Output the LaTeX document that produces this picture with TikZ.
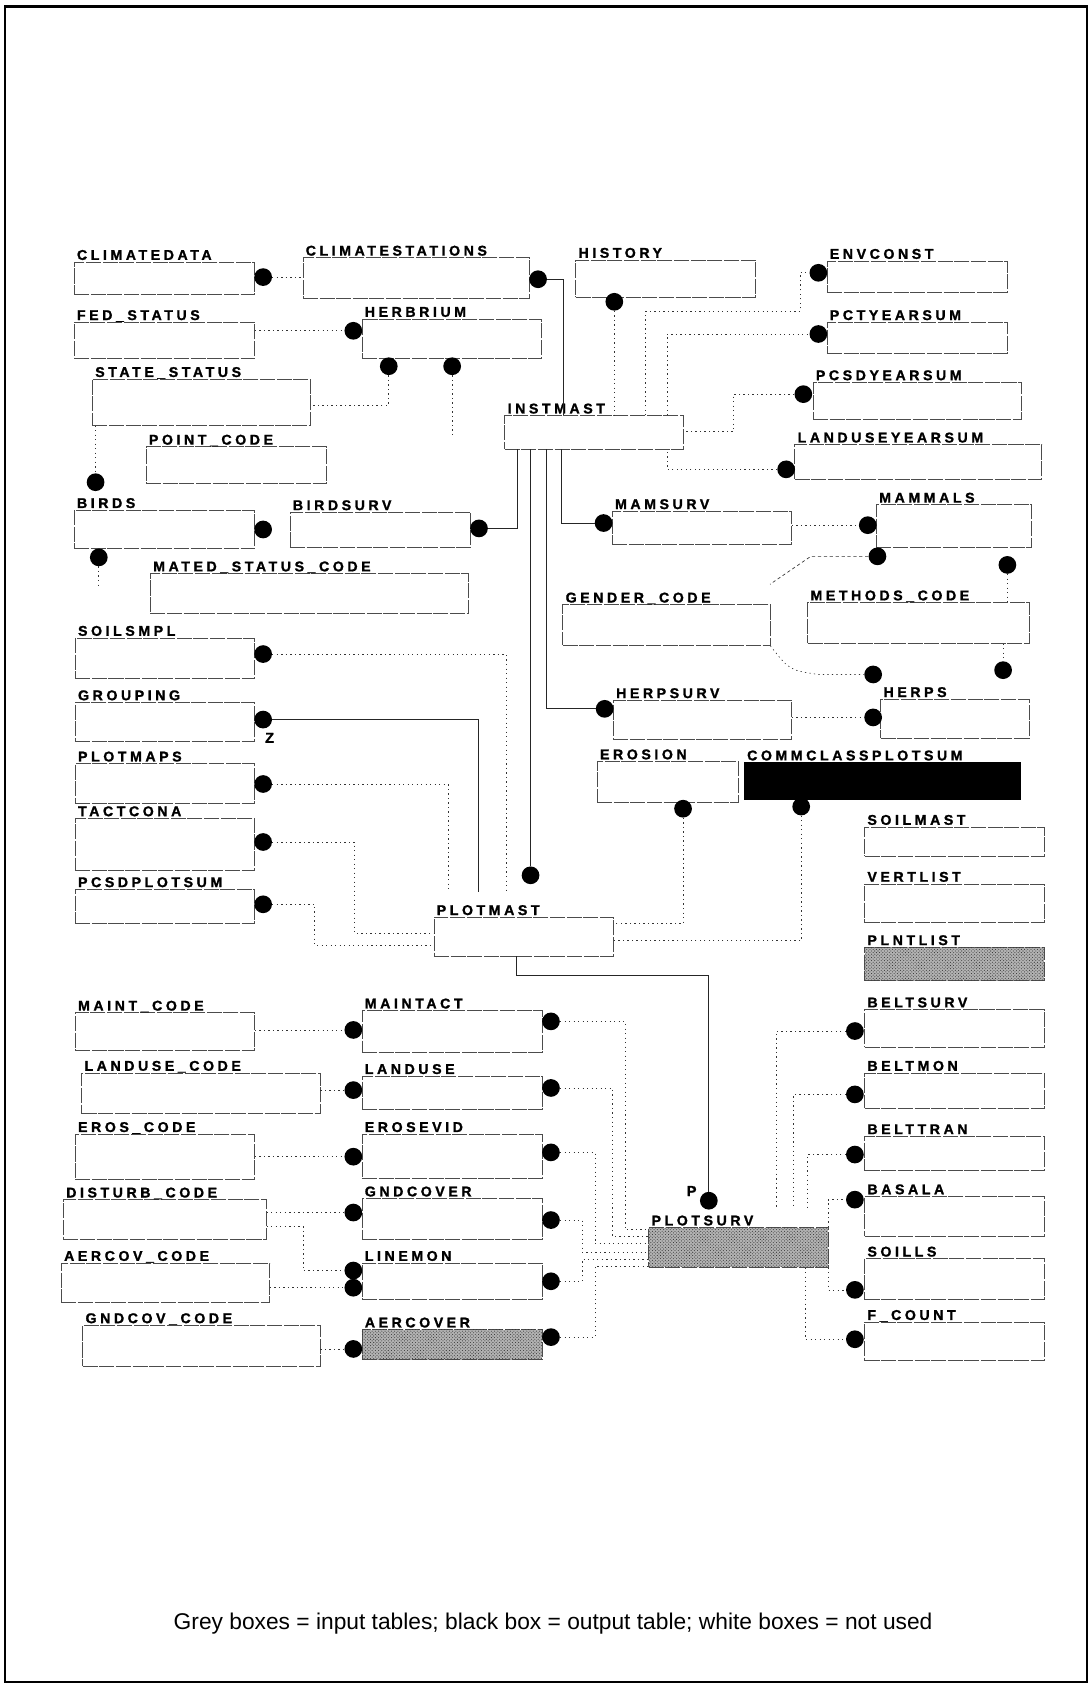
\documentclass[tikz,border=0pt]{standalone}
\usepackage{fontspec}
\setmainfont{Liberation Sans}
\newfontfamily\lblfont[LetterSpace=25,FakeBold=1.3]{Liberation Sans Bold}
\usetikzlibrary{patterns}
\tikzset{
  tbl/.style={rectangle,draw=black!70,line width=0.6pt,dash pattern=on 14pt off 1.5pt,inner sep=0pt},
  greyfill/.style={fill=black!30,postaction={pattern=crosshatch dots,pattern color=black!80}},
  blackfill/.style={fill=black,draw=black,solid},
  plain/.style={},
  lbl/.style={anchor=base west,inner sep=0pt,font=\lblfont\fontsize{13.2}{13}\selectfont},
  blob/.style={circle,fill=black,inner sep=0pt,minimum size=16.5pt},
  dl/.style={draw=black!80,line width=0.6pt,dash pattern=on 1.2pt off 3pt},
  dsh/.style={draw=black!80,line width=0.6pt,dash pattern=on 3pt off 2.5pt},
  sl/.style={draw=black!85,line width=0.7pt},
}
\newcommand{\tb}[7]{%
  \node[tbl,#7,minimum width={(#4-#2)*1pt},minimum height={(#5-#3)*1pt}] (#1) at ({(#2+#4)/2},{(#3+#5)/2}) {};
  \node[lbl] (#1-l) at ({#2+2.5},{#3-2}) {#6};
}
\begin{document}
\begin{tikzpicture}[x=1pt,y=-1pt]
\useasboundingbox (0,0) rectangle (1014,1568);
\draw[line width=2pt] (5,6) rectangle (1012,1566);

% ---- boxes ----
\tb{climatedata}{69}{244}{237}{274}{CLIMATEDATA}{plain}
\tb{climatestations}{282}{240}{493}{278}{CLIMATESTATIONS}{plain}
\tb{history}{536}{242}{703}{277}{HISTORY}{plain}
\tb{envconst}{770}{243}{938}{272}{ENVCONST}{plain}
\tb{fedstatus}{69}{300}{237}{334}{FED\_STATUS}{plain}
\tb{herbrium}{337}{297}{504}{334}{HERBRIUM}{plain}
\tb{pctyearsum}{770}{300}{938}{329}{PCTYEARSUM}{plain}
\tb{statestatus}{86}{353}{289}{396}{STATE\_STATUS}{plain}
\tb{pcsdyearsum}{757}{356}{951}{390}{PCSDYEARSUM}{plain}
\tb{instmast}{470}{387}{636}{418}{INSTMAST}{plain}
\tb{pointcode}{136}{416}{304}{450}{POINT\_CODE}{plain}
\tb{landuseyearsum}{740}{414}{970}{446}{LANDUSEYEARSUM}{plain}
\tb{birds}{69}{475}{237}{511}{BIRDS}{plain}
\tb{birdsurv}{270}{477}{438}{510}{BIRDSURV}{plain}
\tb{mamsurv}{570}{476}{737}{507}{MAMSURV}{plain}
\tb{mammals}{816}{470}{960}{510}{MAMMALS}{plain}
\tb{mated}{140}{534}{436}{571}{MATED\_STATUS\_CODE}{plain}
\tb{gender}{524}{563}{717}{601}{GENDER\_CODE}{plain}
\tb{methods}{752}{561}{958}{599}{METHODS\_CODE}{plain}
\tb{soilsmpl}{70}{594}{237}{632}{SOILSMPL}{plain}
\tb{grouping}{70}{654}{237}{690}{GROUPING}{plain}
\tb{herpsurv}{571}{652}{737}{688}{HERPSURV}{plain}
\tb{herps}{820}{651}{958}{687}{HERPS}{plain}
\tb{plotmaps}{70}{711}{237}{748}{PLOTMAPS}{plain}
\tb{erosion}{556}{709}{687}{747}{EROSION}{plain}
\tb{commclass}{693}{710}{950}{744}{COMMCLASSPLOTSUM}{blackfill}
\tb{tactcona}{70}{762}{237}{810}{TACTCONA}{plain}
\tb{soilmast}{805}{770}{972}{797}{SOILMAST}{plain}
\tb{pcsdplotsum}{70}{828}{237}{860}{PCSDPLOTSUM}{plain}
\tb{vertlist}{805}{823}{972}{859}{VERTLIST}{plain}
\tb{plotmast}{404}{854}{571}{890}{PLOTMAST}{plain}
\tb{plntlist}{805}{882}{972}{913}{PLNTLIST}{greyfill}
\tb{maintcode}{70}{943}{237}{978}{MAINT\_CODE}{plain}
\tb{maintact}{337}{941}{505}{980}{MAINTACT}{plain}
\tb{beltsurv}{805}{940}{972}{975}{BELTSURV}{plain}
\tb{landusecode}{76}{999}{298}{1037}{LANDUSE\_CODE}{plain}
\tb{landuse}{337}{1002}{505}{1033}{LANDUSE}{plain}
\tb{beltmon}{805}{999}{972}{1032}{BELTMON}{plain}
\tb{eroscode}{70}{1056}{237}{1098}{EROS\_CODE}{plain}
\tb{erosevid}{337}{1056}{505}{1097}{EROSEVID}{plain}
\tb{belttran}{805}{1058}{972}{1090}{BELTTRAN}{plain}
\tb{disturb}{59}{1117}{248}{1154}{DISTURB\_CODE}{plain}
\tb{gndcover}{337}{1116}{505}{1154}{GNDCOVER}{plain}
\tb{basala}{805}{1114}{972}{1151}{BASALA}{plain}
\tb{plotsurv}{604}{1143}{771}{1180}{PLOTSURV}{greyfill}
\tb{aercovcode}{57}{1176}{251}{1213}{AERCOV\_CODE}{plain}
\tb{linemon}{337}{1176}{505}{1210}{LINEMON}{plain}
\tb{soills}{805}{1172}{972}{1210}{SOILLS}{plain}
\tb{gndcovcode}{77}{1234}{298}{1272}{GNDCOV\_CODE}{plain}
\tb{aercover}{337}{1238}{505}{1266}{AERCOVER}{greyfill}
\tb{fcount}{805}{1231}{972}{1267}{F\_COUNT}{plain}

% ---- dots ----
\node[blob] (d1) at (245,258) {};
\node[blob] (d2) at (501,260) {};
\node[blob] (d3) at (572,281) {};
\node[blob] (d4) at (762,254) {};
\node[blob] (d5) at (329,308) {};
\node[blob] (d6) at (762,311) {};
\node[blob] (d7) at (362,341) {};
\node[blob] (d8) at (421,341) {};
\node[blob] (d9) at (748,367) {};
\node[blob] (d10) at (732,437) {};
\node[blob] (d11) at (89,449) {};
\node[blob] (d12) at (245,493) {};
\node[blob] (d13) at (446,492) {};
\node[blob] (d14) at (562,487) {};
\node[blob] (d15) at (808,489) {};
\node[blob] (d16) at (92,519) {};
\node[blob] (d17) at (817,518) {};
\node[blob] (d18) at (938,526) {};
\node[blob] (d19) at (245,609) {};
\node[blob] (d20) at (813,628) {};
\node[blob] (d21) at (934,624) {};
\node[blob] (d22) at (563,660) {};
\node[blob] (d23) at (813,668) {};
\node[blob] (d24) at (245,670) {};
\node[blob] (d25) at (245,730) {};
\node[blob] (d26) at (636,753) {};
\node[blob] (d27) at (746,751) {};
\node[blob] (d28) at (245,784) {};
\node[blob] (d29) at (494,815) {};
\node[blob] (d30) at (245,842) {};
\node[blob] (d31) at (329,959) {};
\node[blob] (d32) at (513,951) {};
\node[blob] (d33) at (796,960) {};
\node[blob] (d34) at (329,1015) {};
\node[blob] (d35) at (513,1013) {};
\node[blob] (d36) at (796,1019) {};
\node[blob] (d37) at (329,1077) {};
\node[blob] (d38) at (513,1073) {};
\node[blob] (d39) at (796,1075) {};
\node[blob] (d40) at (660,1118) {};
\node[blob] (d41) at (796,1117) {};
\node[blob] (d42) at (329,1129) {};
\node[blob] (d43) at (513,1136) {};
\node[blob] (d44) at (329,1183) {};
\node[blob] (d45) at (329,1199) {};
\node[blob] (d46) at (513,1193) {};
\node[blob] (d47) at (796,1201) {};
\node[blob] (d48) at (329,1256) {};
\node[blob] (d49) at (513,1245) {};
\node[blob] (d50) at (796,1247) {};

\node[font=\lblfont\fontsize{13.5}{14}\selectfont,inner sep=0pt] (zlab) at (251,687) {Z};
\node[font=\lblfont\fontsize{13.5}{14}\selectfont,inner sep=0pt] (plab) at (644,1109) {P};

% free ends
\coordinate (e8) at (421,405);
\coordinate (e16) at (92,548);
\coordinate (e18) at (717,544);
\coordinate (e19) at (471,831);
\coordinate (e24) at (445,831);
\coordinate (e25) at (417,831);
\coordinate (e33) at (723,1125);
\coordinate (e36) at (739,1125);
\coordinate (e39) at (752,1125);

% ---- connectors ----
\draw[dl] (d1) -- (d1 -| climatestations.west);
\draw[sl] (d2) -| (525,0 |- instmast.north);
\draw[dl] (d3) -- (d3 |- instmast.north);
\draw[dl] (601,0 |- instmast.north) |- (745,290) |- (d4);
\draw[dl] (621,0 |- instmast.north) |- (d6);
\draw[dl] (fedstatus.east |- d5) -- (d5);
\draw[dl] (d7) |- (statestatus.east |- 0,377);
\draw[dl] (d8) -- (e8);
\draw[dl] (d9) -| (683,402) -- (instmast.east |- 0,402);
\draw[dl] (d10) -| (621,0 |- instmast.south);
\draw[dl] (89,0 |- statestatus.south) -- (d11);
\draw[dl] (d16) -- (e16);
\draw[sl] (482,0 |- instmast.south) |- (d13);
\draw[sl] (494,0 |- instmast.south) -- (d29);
\draw[sl] (509,0 |- instmast.south) |- (d22);
\draw[sl] (523,0 |- instmast.south) |- (d14);
\draw[dl] (mamsurv.east |- d15) -- (d15);
\draw[dsh] (d17) -- (755,518) -- (e18);
\draw[dl] (d18) -- (d18 |- methods.north);
\draw[dl] (methods.south -| d21) -- (d21);
\draw[dl] (gender.south east) .. controls (735,624) .. (762,628) -- (d20);
\draw[dl] (herpsurv.east |- d23) -- (d23);
\draw[dl] (d19) -| (e19);
\draw[sl] (d24) -| (e24);
\draw[dl] (d25) -| (e25);
\draw[dl] (d28) -| (330,869) -- (plotmast.west |- 0,869);
\draw[dl] (d30) -| (293,880) -- (plotmast.west |- 0,880);
\draw[dl] (d26) |- (plotmast.east |- 0,860);
\draw[dl] (d27) |- (plotmast.east |- 0,876);
\draw[sl] (481,0 |- plotmast.south) |- (660,908) -- (d40);
\draw[dl] (maintcode.east |- d31) -- (d31);
\draw[dl] (landusecode.east |- d34) -- (d34);
\draw[dl] (eroscode.east |- d37) -- (d37);
\draw[dl] (disturb.east |- d42) -- (d42);
\draw[dl] (disturb.east |- 0,1142) -| (282,1183) -- (d44);
\draw[dl] (aercovcode.east |- d45) -- (d45);
\draw[dl] (gndcovcode.east |- d48) -- (d48);
\draw[dl] (d32) -| (582,1145) -- (plotsurv.west |- 0,1145);
\draw[dl] (d35) -| (570,1151) -- (plotsurv.west |- 0,1151);
\draw[dl] (d38) -| (554,1158) -- (plotsurv.west |- 0,1158);
\draw[dl] (d43) -| (542,1166) -- (plotsurv.west |- 0,1166);
\draw[dl] (d46) -| (542,1173) -- (plotsurv.west |- 0,1173);
\draw[dl] (d49) -| (554,1179) -- (plotsurv.west |- 0,1179);
\draw[dl] (d33) -| (e33);
\draw[dl] (d36) -| (e36);
\draw[dl] (d39) -| (e39);
\draw[dl] (plotsurv.north east) |- (d41);
\draw[dl] (plotsurv.south east) |- (d47);
\draw[dl] (750,0 |- plotsurv.south) |- (d50);

% ---- legend ----
\node[font=\fontsize{21.2}{25}\selectfont,inner sep=0pt] (legend) at (515,1512) {Grey boxes = input tables; black box = output table; white boxes = not used};
\end{tikzpicture}
\end{document}
